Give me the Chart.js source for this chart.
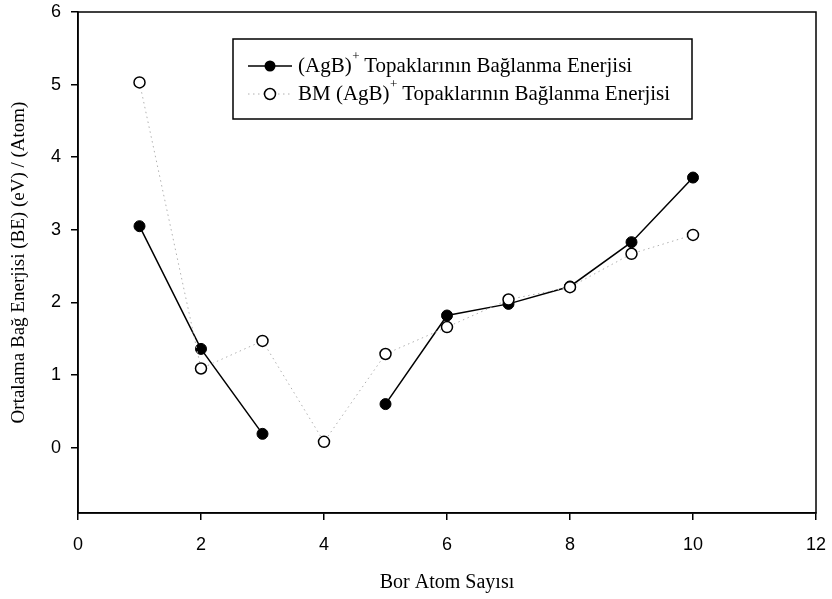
<!DOCTYPE html>
<html>
<head>
<meta charset="utf-8">
<script src="https://cdn.jsdelivr.net/npm/chart.js@4"></script>
<style>
html,body{margin:0;padding:0;background:#fff;}
#wrap{width:832px;height:599px;position:relative;}
</style>
</head>
<body>
<div id="wrap"><canvas id="c" width="832" height="599"></canvas></div>
<script>
const boronCounts = [1, 2, 3, 4, 5, 6, 7, 8, 9, 10];
const agbBinding = [3.05, 1.36, 0.19, null, 0.60, 1.82, 1.98, 2.22, 2.83, 3.72];
const bmAgbBinding = [5.03, 1.09, 1.47, 0.08, 1.29, 1.66, 2.04, 2.21, 2.67, 2.93];
const xTicks = [0, 2, 4, 6, 8, 10, 12];
const yTicks = [0, 1, 2, 3, 4, 5, 6];
const seriesNames = ["(AgB)", "BM (AgB)"];
const seriesSuffix = " Topaklarının Bağlanma Enerjisi";
const xTitle = "Bor Atom Sayısı";
const yTitle = "Ortalama Bağ Enerjisi (BE) (eV) / (Atom)";

const SERIF = "'Liberation Serif','Times New Roman',serif";
const SANS = "'Liberation Sans',Arial,sans-serif";

const toPts = arr => boronCounts.map((x, i) => ({x: x, y: arr[i]}));

const legendPlugin = {
  id: 'boxLegend',
  afterDraw(chart) {
    const ctx = chart.ctx;
    ctx.save();
    const bx = 233, by = 39, bw = 459, bh = 80;
    ctx.strokeStyle = '#000';
    ctx.lineWidth = 1.5;
    ctx.strokeRect(bx, by, bw, bh);
    const rows = [
      {y: 66, name: seriesNames[0], solid: true},
      {y: 94, name: seriesNames[1], solid: false}
    ];
    rows.forEach(r => {
      ctx.save();
      if (r.solid) {
        ctx.strokeStyle = '#000'; ctx.lineWidth = 1.5; ctx.setLineDash([]);
      } else {
        ctx.strokeStyle = '#b0b0b0'; ctx.lineWidth = 1; ctx.setLineDash([1.5, 3.5]);
      }
      ctx.beginPath(); ctx.moveTo(248, r.y); ctx.lineTo(292, r.y); ctx.stroke();
      ctx.setLineDash([]);
      ctx.beginPath(); ctx.arc(270, r.y, 5.5, 0, Math.PI * 2);
      if (r.solid) { ctx.fillStyle = '#000'; ctx.fill(); }
      else { ctx.fillStyle = '#fff'; ctx.fill(); ctx.strokeStyle = '#000'; ctx.lineWidth = 1.5; ctx.stroke(); }
      ctx.restore();
      ctx.fillStyle = '#000';
      ctx.textBaseline = 'middle';
      ctx.textAlign = 'left';
      ctx.font = '21px ' + SERIF;
      let x = 298;
      ctx.fillText(r.name, x, r.y);
      x += ctx.measureText(r.name).width;
      ctx.font = '13px ' + SERIF;
      ctx.fillText('+', x + 0.5, r.y - 9);
      x += ctx.measureText('+').width;
      ctx.font = '21px ' + SERIF;
      ctx.fillText(seriesSuffix, x, r.y);
    });
    ctx.restore();
  }
};

const frameLines = {
  id: 'frame',
  afterDatasetsDraw(chart) {
    const a = chart.chartArea, ctx = chart.ctx;
    ctx.save();
    ctx.strokeStyle = '#000';
    ctx.lineWidth = 1.5;
    ctx.strokeRect(a.left, a.top, a.right - a.left, a.bottom - a.top);
    ctx.restore();
  }
};

new Chart(document.getElementById('c'), {
  type: 'line',
  data: {
    datasets: [
      {
        label: seriesNames[0] + '+' + seriesSuffix,
        data: toPts(agbBinding),
        borderColor: '#000',
        borderWidth: 1.5,
        backgroundColor: '#000',
        pointBackgroundColor: '#000',
        pointBorderColor: '#000',
        pointBorderWidth: 1,
        pointRadius: 5.5,
        spanGaps: false,
        tension: 0,
        order: 1
      },
      {
        label: seriesNames[1] + '+' + seriesSuffix,
        data: toPts(bmAgbBinding),
        borderColor: '#b0b0b0',
        borderWidth: 1,
        borderDash: [1.5, 3.5],
        pointBackgroundColor: '#fff',
        pointBorderColor: '#000',
        pointBorderWidth: 1.5,
        pointRadius: 5.5,
        tension: 0,
        order: 0
      }
    ]
  },
  options: {
    responsive: false,
    animation: false,
    layout: {padding: {top: 12, right: 16, left: 0, bottom: 0}},
    plugins: {legend: {display: false}, tooltip: {enabled: false}},
    scales: {
      x: {
        type: 'linear',
        min: 0, max: 12,
        afterBuildTicks: s => { s.ticks = xTicks.map(v => ({value: v})); },
        afterFit: s => { s.height = 86; s.paddingLeft = 0; s.paddingRight = 0; },
        grid: {display: true, drawOnChartArea: false, drawTicks: true, tickLength: 7, color: '#000', lineWidth: 1.5},
        border: {display: true, color: '#000', width: 1.5},
        ticks: {color: '#000', font: {family: SANS, size: 18}, padding: 14, maxRotation: 0},
        title: {display: true, text: xTitle, color: '#000', font: {family: SERIF, size: 20}, padding: {top: 18, bottom: 4}}
      },
      y: {
        type: 'linear',
        min: -0.9, max: 6,
        afterBuildTicks: s => { s.ticks = yTicks.map(v => ({value: v})); },
        afterFit: s => { s.width = 78; s.paddingTop = 0; s.paddingBottom = 0; },
        grid: {display: true, drawOnChartArea: false, drawTicks: true, tickLength: 7, color: '#000', lineWidth: 1.5},
        border: {display: true, color: '#000', width: 1.5},
        ticks: {color: '#000', font: {family: SANS, size: 18}, padding: 10},
        title: {display: true, text: yTitle, color: '#000', font: {family: SERIF, size: 19}, padding: {top: 8, bottom: 0}}
      }
    }
  },
  plugins: [legendPlugin, frameLines]
});
</script>
</body>
</html>
